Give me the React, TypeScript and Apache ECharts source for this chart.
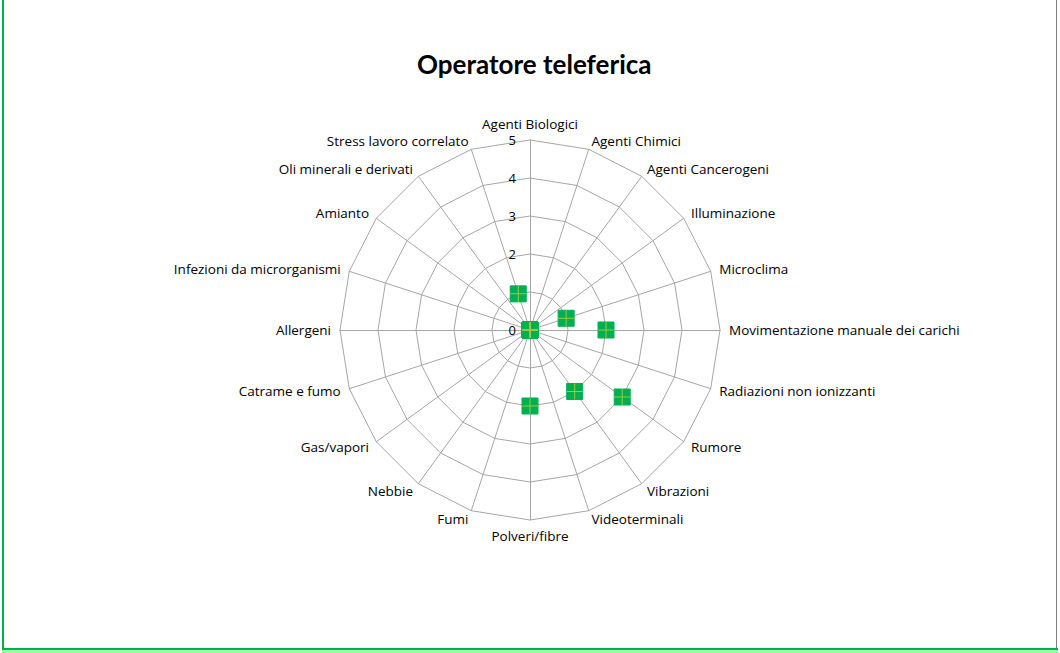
import React, { useEffect, useRef } from "react";
import * as echarts from "echarts";

const title = "Operatore teleferica";
// clockwise from top
const categories = [
  "Agenti Biologici",
  "Agenti Chimici",
  "Agenti Cancerogeni",
  "Illuminazione",
  "Microclima",
  "Movimentazione manuale dei carichi",
  "Radiazioni non ionizzanti",
  "Rumore",
  "Vibrazioni",
  "Videoterminali",
  "Polveri/fibre",
  "Fumi",
  "Nebbie",
  "Gas/vapori",
  "Catrame e fumo",
  "Allergeni",
  "Infezioni da microrganismi",
  "Amianto",
  "Oli minerali e derivati",
  "Stress lavoro correlato",
];
const values = [0, 0, 0, 0, 1, 2, 0, 3, 2, 0, 2, 0, 0, 0, 0, 0, 0, 0, 0, 1];
const tickLabels = ["0", "1", "2", "3", "4", "5"];
const maxValue = 5;

export default function App() {
  const ref = useRef<HTMLDivElement>(null);
  useEffect(() => {
    document.body.style.margin = "0";
    const chart = echarts.init(ref.current!, undefined, { renderer: "svg" });
    // ECharts places indicators counter-clockwise; reorder so they run clockwise
    const order = [0, ...categories.map((_, i) => i).slice(1).reverse()];
    const indicator = order.map((i) => ({ name: categories[i], min: 0, max: maxValue }));
    const data = order.map((i) => values[i]);
    const font = "'Open Sans', sans-serif";
    chart.setOption({
      animation: false,
      backgroundColor: "#ffffff",
      title: {
        text: title,
        left: 412,
        top: 46,
        textStyle: { fontFamily: "Lato, sans-serif", fontSize: 26, fontWeight: "bold", color: "#000" },
      },
      radar: {
        center: [530, 330],
        radius: 190,
        startAngle: 90,
        splitNumber: 5,
        shape: "polygon",
        indicator,
        nameGap: 9,
        axisName: { color: "#000", fontFamily: font, fontSize: 13.5 },
        axisLine: { lineStyle: { color: "#a6a6a6", width: 1 } },
        splitLine: { lineStyle: { color: "#a6a6a6", width: 1 } },
        splitArea: { show: false },
        axisTick: { show: false },
        axisLabel: { show: false },
      },
      polar: { center: [530, 330], radius: 190 },
      angleAxis: { show: false, startAngle: 90, min: 0, max: 360 },
      radiusAxis: {
        min: 0,
        max: maxValue,
        interval: 1,
        axisLine: { show: false },
        axisTick: { show: false },
        splitLine: { show: false },
        axisLabel: {
          show: true,
          fontFamily: font,
          fontSize: 13,
          color: "#000",
          formatter: (v: number) => tickLabels[Math.round(v)] ?? "",
          margin: 14,
          align: "right",
          verticalAlign: "middle",
        },
        z: 1,
      },
      series: [
        {
          type: "radar",
          symbol: "rect",
          symbolSize: 16,
          itemStyle: { color: "#00b050", borderColor: "#00b050" },
          lineStyle: { width: 0, opacity: 0 },
          areaStyle: { opacity: 0 },
          data: [{ value: data, name: title }],
          z: 5,
        },
        {
          type: "radar",
          symbol: "path://M7.5,0h1v16h-1z M0,7.5h16v1h-16z",
          symbolSize: 16,
          itemStyle: { color: "#9cc83c", borderWidth: 0 },
          lineStyle: { width: 0, opacity: 0 },
          areaStyle: { opacity: 0 },
          silent: true,
          data: [{ value: data, name: title + " " }],
          z: 6,
        },
      ],
      graphic: [
        { type: "rect", shape: { x: 2, y: 0, width: 2, height: 653 }, style: { fill: "#00b050" } },
        { type: "rect", shape: { x: 1056, y: 0, width: 1, height: 653 }, style: { fill: "#808080" } },
        { type: "rect", shape: { x: 2, y: 648, width: 1056, height: 2 }, style: { fill: "#00b050" } },
        { type: "rect", shape: { x: 2, y: 650, width: 1056, height: 3 }, style: { fill: "#99ff99" } },
      ],
    });
    return () => chart.dispose();
  }, []);
  return (
    <div
      ref={ref}
      style={{ position: "fixed", left: 0, top: 0, width: 1060, height: 653 }}
    />
  );
}
